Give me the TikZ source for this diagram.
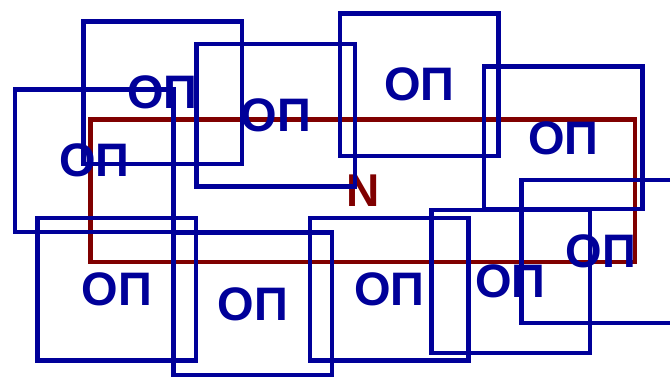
\documentclass[tikz,border=0pt]{standalone}
\usepackage{fontspec}
\setmainfont{Liberation Sans}
\definecolor{opblue}{HTML}{000099}
\definecolor{nred}{HTML}{800000}
\begin{document}
\begin{tikzpicture}[x=1pt,y=-1pt,
  opbox/.style={draw=opblue,line width=4.5pt,minimum width=158.5pt,minimum height=142.5pt,inner sep=0pt,outer sep=0pt,text=opblue,font=\fontsize{47}{47}\selectfont\bfseries},
  nbox/.style={draw=nred,line width=4.5pt,minimum width=544.5pt,minimum height=142.5pt,inner sep=0pt,outer sep=0pt,text=nred,font=\fontsize{46}{46}\selectfont\bfseries}]
\useasboundingbox (0,0) rectangle (670,377);
\node[nbox] (n) at (362.75,190.75) {N};
\node[opbox] (s1) at (162.6,92.6) {ОП};
\node[opbox] (s2) at (94.4,160.7) {ОП};
\node[opbox] (s3) at (275.8,115.3) {ОП};
\node[opbox] (s4) at (419.3,84.7) {ОП};
\node[opbox] (s5) at (563.3,138) {ОП};
\node[opbox] (s6) at (600.8,251.5) {ОП};
\node[opbox] (s7) at (116.7,289.3) {ОП};
\node[opbox] (s8) at (252.8,304) {ОП};
\node[opbox] (s9) at (389.2,289.3) {ОП};
\node[opbox] (s10) at (510.5,281.5) {ОП};
\end{tikzpicture}
\end{document}
